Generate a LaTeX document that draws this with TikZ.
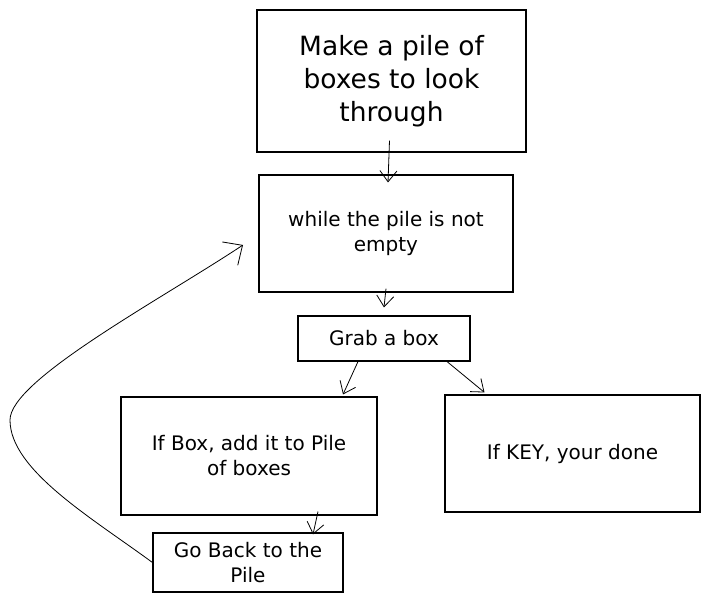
\documentclass[tikz,border=0pt]{standalone}
\usepackage{fontspec}
\setmainfont{DejaVu Sans}
\usetikzlibrary{arrows.meta}

\begin{document}
\begin{tikzpicture}
				[x=1pt,y=-1pt,every node/.style={draw,line width=1.1pt,inner sep=0pt,align=center,font=\fontsize{20}{25}\selectfont},
				 edge/.style={line width=0.8pt,-{Straight Barb[length=11pt,width=17pt]}}]
				\useasboundingbox (0,0) rectangle (710,604);
				\node[minimum width=269pt,minimum height=142pt,font=\fontsize{26.5}{33}\selectfont] (make) at (391.5,81) {Make a pile of\\boxes to look\\through};
				\node[minimum width=254pt,minimum height=117pt] (while) at (386,233.5) {while the pile is not\\empty};
				\node[minimum width=172pt,minimum height=45pt] (grab) at (384,338.5) {Grab a box};
				\node[minimum width=256pt,minimum height=118pt] (ifbox) at (249,456) {If Box, add it to Pile\\of boxes};
				\node[minimum width=255pt,minimum height=117pt] (ifkey) at (572.5,453.5) {If KEY, your done};
				\node[minimum width=190pt,minimum height=59pt] (back) at (248,562.5) {Go Back to the\\Pile};
				\coordinate (looptip) at (243,245);
				
				\draw[edge] ([xshift=-2pt,yshift=12pt]make.south) -- ([xshift=2pt,yshift=-8pt]while.north);
				\draw[edge] ([yshift=4pt]while.south) -- ([yshift=8pt]grab.north);
				\draw[edge] ([xshift=-26pt]grab.south) -- ([xshift=94pt,yshift=2pt]ifbox.north);
				\draw[edge] ([xshift=63pt]grab.south) -- ([xshift=-88pt,yshift=2pt]ifkey.north);
				\draw[edge] ([xshift=69pt,yshift=4pt]ifbox.south) -- ([xshift=65pt,yshift=-2pt]back.north);
				\draw[edge,-{Straight Barb[length=15pt,width=28pt]}] (back.west) .. controls (92,518) and (10,470) .. (10,420)
					.. controls (10,380) and (160,300) .. (looptip);
				\end{tikzpicture}
\end{document}
